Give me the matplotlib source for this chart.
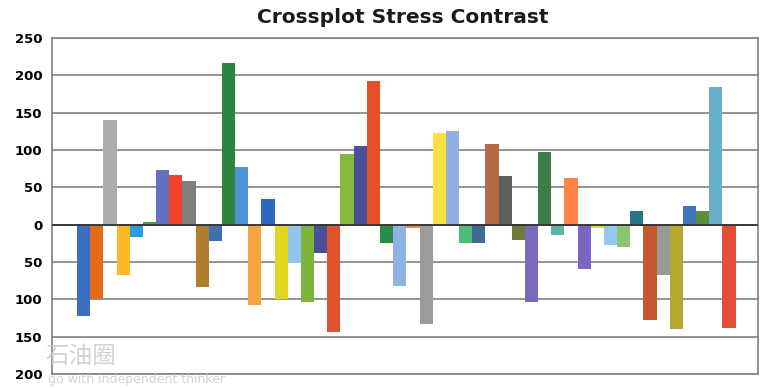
import numpy as np
import matplotlib
matplotlib.use("Agg")
import matplotlib.pyplot as plt

# stress contrast per sample
values = [-122, -100, 140, -68, -17, 3, 73, 67, 59, -84,
          -22, 216, 77, -108, 35, -99, -52, -104, -38, -144,
          94, 106, 193, -25, -82, -4, -133, 123, 125, -25,
          -25, 108, 65, -21, -103, 97, -14, 63, -60, -5,
          -27, -30, 18, -128, -67, -140, 25, 18, 185, -138]

colors = ["#3A6FC4", "#E36C14", "#ADADAD", "#FDB924", "#2E9BE0",
          "#3AA845", "#6470C0", "#F0452A", "#7F7F7F", "#B07D2E",
          "#3F6FB0", "#2E8540", "#4D94DB", "#F5A442", "#2E66C0",
          "#DDD71E", "#92C4EE", "#7DB53A", "#4A4F98", "#E0532D",
          "#86B83E", "#4B4F96", "#E5502B", "#2C8A4A", "#8FB4E3",
          "#F68A3C", "#9B9B9B", "#FEE043", "#8EB0E0", "#4CBE78",
          "#3F6C95", "#B46A47", "#5E5E5E", "#727A3A", "#7B68BF",
          "#3E7D46", "#5BB5A5", "#FC8446", "#7A65C0", "#D4E03A",
          "#93C9F0", "#8BC573", "#2A7587", "#C4592F", "#999999",
          "#B5A82E", "#3F74B8", "#5B8F3C", "#67AECB", "#E24D36"]

yticks = [-200, -150, -100, -50, 0, 50, 100, 150, 200, 250]
ytick_labels = [str(abs(t)) for t in yticks]

fig = plt.figure(figsize=(7.75, 3.88), dpi=100)
ax = fig.add_axes([0.0671, 0.0361, 0.911, 0.866])

x = np.arange(len(values))
ax.bar(x, values, width=1.0, color=colors, zorder=3)

ax.set_xlim(-2.4, 51.2)
ax.set_ylim(-200, 250)
ax.set_yticks(yticks)
ax.set_yticklabels(ytick_labels, fontsize=9.5, fontweight="bold")
ax.set_xticks([])
ax.tick_params(axis="y", length=0, pad=7)

ax.grid(axis="y", color="#808080", linewidth=1.2, zorder=0)
ax.axhline(0, color="#333333", linewidth=1.3, zorder=4)
for side in ["left", "bottom", "right", "top"]:
    ax.spines[side].set_color("#808080")
    ax.spines[side].set_linewidth(1.2)

fig.text(0.52, 0.955, "Crossplot Stress Contrast", ha="center", va="center",
         fontsize=14.5, fontweight="bold", color="#1a1a1a")

# faint watermark
fig.text(0.058, 0.082, "石油圈", family=["Noto Sans CJK SC", "DejaVu Sans"],
         fontsize=17, color="#c8c8c8", alpha=0.8, ha="left", va="center")
fig.text(0.062, 0.022, "go with independent thinker", fontsize=9,
         color="#c8c8c8", alpha=0.8, ha="left", va="center")

fig.savefig("out.png", dpi=100)
